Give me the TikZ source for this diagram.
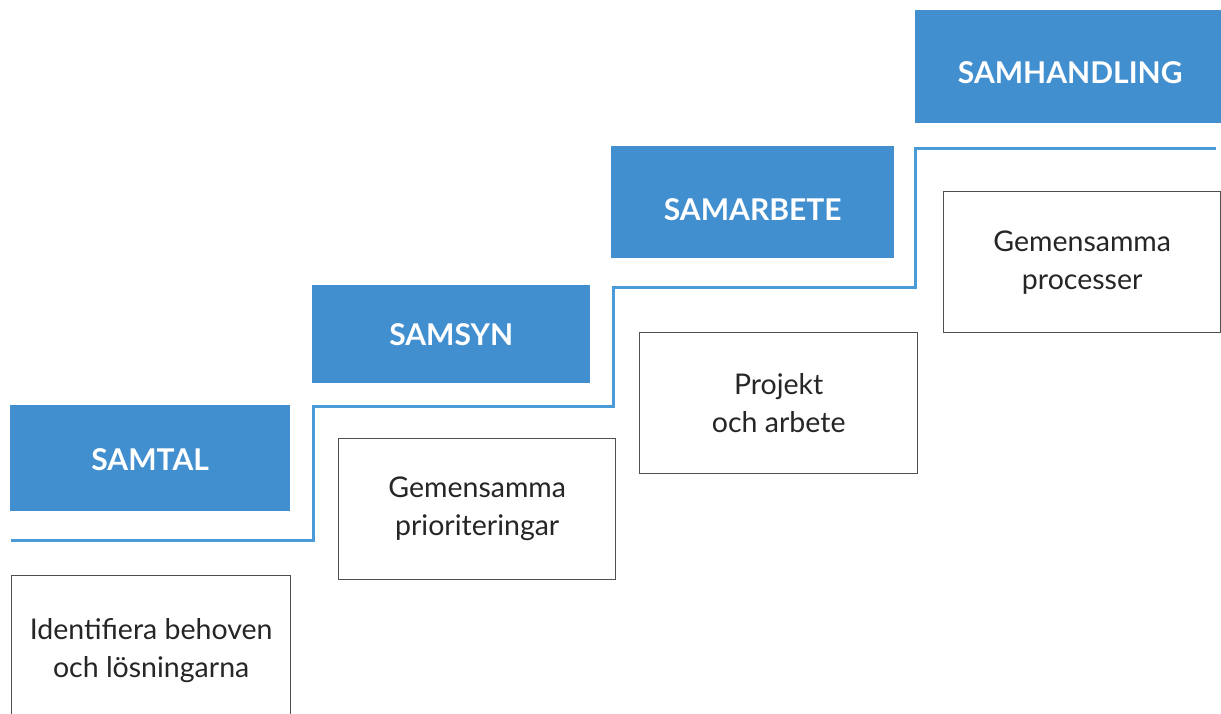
\documentclass[tikz,border=0pt]{standalone}
\usepackage{fontspec}
\setmainfont{Lato}
\definecolor{stepblue}{RGB}{66,143,208}
\definecolor{stairblue}{RGB}{74,154,216}
\definecolor{boxgray}{RGB}{80,80,80}

\begin{document}
\begin{tikzpicture}
  [
    x=1pt, y=-1pt,
    level/.style={anchor=north west, fill=stepblue, text=white, inner sep=0pt,
      text height=21.5pt, text depth=0pt,
      font=\fontsize{30}{34}\selectfont\bfseries},
    goal/.style={anchor=north west, draw=boxgray, line width=1.4pt, fill=white,
      inner sep=0pt, align=center, text=black!85,
      font=\fontsize{28.5}{38}\selectfont},
    stair/.style={draw=stairblue, line width=3pt, line join=miter}
  ]
    \path[use as bounding box] (0,0) rectangle (1221,713);

    % the four steps
    \node[level, minimum width=280pt, minimum height=106pt] (samtal) at (10,405) {\raisebox{-2pt}{SAMTAL}};
    \node[level, minimum width=278pt, minimum height=98pt] (samsyn) at (312,285) {\raisebox{-1pt}{SAMSYN}};
    \node[level, minimum width=283pt, minimum height=112pt] (samarbete) at (611,146) {\raisebox{-8pt}{SAMARBETE}};
    \node[level, minimum width=310pt, minimum height=113pt] (samhandling) at (915,10) {\raisebox{-6pt}{SAMHANDLING}};

    % what each step is about
    \node[goal, minimum width=279pt, minimum height=150pt] (behov) at (11,575) {Identifiera behoven\\och lösningarna};
    \node[goal, minimum width=277pt, minimum height=141pt] (prio) at (338,438) {Gemensamma\\prioriteringar};
    \node[goal, minimum width=278pt, minimum height=141pt] (projekt) at (639,332) {Projekt\\och arbete};
    \node[goal, minimum width=277pt, minimum height=141pt] (process) at (943,191) {Gemensamma\\processer};

    % staircase line
    \coordinate (s0) at (11,540);
    \coordinate (s1) at (313,540);
    \coordinate (s2) at (313,406);
    \coordinate (s3) at (613,406);
    \coordinate (s4) at (613,287);
    \coordinate (s5) at (915,287);
    \coordinate (s6) at (915,148);
    \coordinate (s7) at (1216,148);
    \draw[stair] (s0) -- (s1) -- (s2) -- (s3) -- (s4) -- (s5) -- (s6) -- (s7);
  \end{tikzpicture}
\end{document}
